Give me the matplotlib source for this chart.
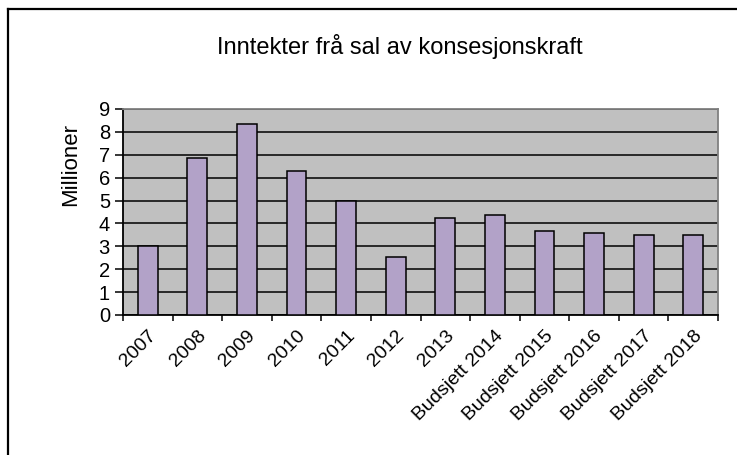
#!/usr/bin/env python3
"""income from sale of concession power, bar chart"""
import numpy as np
import matplotlib
matplotlib.use("Agg")
import matplotlib.pyplot as plt
from matplotlib.lines import Line2D

plt.rcParams['font.family'] = ['Liberation Sans', 'DejaVu Sans']

categories = ["2007", "2008", "2009", "2010", "2011", "2012", "2013",
              "Budsjett 2014", "Budsjett 2015", "Budsjett 2016",
              "Budsjett 2017", "Budsjett 2018"]
values = [3.0, 6.85, 8.35, 6.3, 5.0, 2.55, 4.22, 4.38, 3.68, 3.6, 3.5, 3.5]
yticks = list(range(0, 10))

title = "Inntekter frå sal av konsesjonskraft"
ylabel = "Millioner"

W, H = 737, 455
fig = plt.figure(figsize=(W / 100, H / 100), dpi=100)
fig.patch.set_facecolor("white")

# plot area in pixels: left 123, right 718, top 109, bottom 315
ax = fig.add_axes([123 / W, 1 - 315 / H, (718 - 123) / W, (315 - 109) / H])
ax.set_facecolor("#C0C0C0")

x = np.arange(len(categories))
ax.set_axisbelow(True)
ax.yaxis.grid(True, color="black", linewidth=1.1)
ax.bar(x, values, width=0.4, color="#B2A2C8", edgecolor="black",
       linewidth=1.1, zorder=3)

ax.set_xlim(-0.5, len(categories) - 0.5)
ax.set_ylim(0, 9)
ax.set_yticks(yticks)
ax.set_yticklabels([str(t) for t in yticks], fontsize=14.5)
ax.tick_params(axis="y", length=5.8, width=1.1, pad=3.6, color="black")

ax.set_xticks(x)
ax.set_xticklabels(categories, fontsize=14, rotation=45, ha="right",
                   va="top", rotation_mode="anchor")
ax.tick_params(axis="x", which="major", length=0, pad=9)
ax.set_xticks(np.arange(-0.5, len(categories), 1.0), minor=True)
ax.tick_params(axis="x", which="minor", length=4.5, width=1.1, color="black")

for side in ["left", "bottom"]:
    ax.spines[side].set_color("black")
    ax.spines[side].set_linewidth(1.3)
for side in ["top", "right"]:
    ax.spines[side].set_color("#808080")
    ax.spines[side].set_linewidth(1.3)

fig.text(71 / W, 1 - 164.5 / H, ylabel, fontsize=16, rotation=90,
         ha="center", va="center")

fig.text(400 / W, 1 - 54 / H, title, fontsize=17, ha="center",
         va="baseline")

# outer chart border (only top and left visible)
fig.add_artist(Line2D([8 / W, 8 / W], [0, 1 - 9 / H], color="black",
                      linewidth=1.6, transform=fig.transFigure))
fig.add_artist(Line2D([8 / W, 1], [1 - 9 / H, 1 - 9 / H], color="black",
                      linewidth=1.6, transform=fig.transFigure))

fig.savefig("out.png", dpi=100)
